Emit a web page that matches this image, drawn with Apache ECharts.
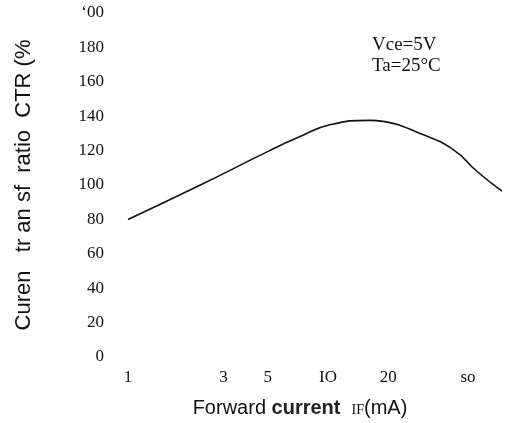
<!DOCTYPE html>
<html>
<head>
<meta charset="utf-8">
<script src="https://cdn.jsdelivr.net/npm/echarts@6/dist/echarts.min.js"></script>
<style>html,body{margin:0;padding:0;background:#fff;}#c{width:514px;height:423px;}</style>
</head>
<body>
<div id="c"></div>
<script>
// Forward current IF (mA) and current transfer ratio CTR (%)
var forwardCurrent = [1.0, 2.3, 5.1, 7.2, 10.2, 16.2, 18.8, 28.8, 42.2, 55.4, 73.9];
var ctrValues      = [80, 100, 120, 128, 135, 137.6, 137, 130, 120.6, 108, 96.4];
var xTickValues = [1, 3, 5, 10, 20, 50];
var xTickLabels = ['1', '3', '5', 'IO', '20', 'so'];
var yTickValues = [0, 20, 40, 60, 80, 100, 120, 140, 160, 180, 200];
var yTickLabels = ['0', '20', '40', '60', '80', '100', '120', '140', '160', '180', '\u201800'];

var chart = echarts.init(document.getElementById('c'));
var serif = '"Liberation Serif", "DejaVu Serif", serif';
var sans = '"Liberation Sans", "DejaVu Sans", sans-serif';

chart.setOption({
  animation: false,
  backgroundColor: '#fff',
  title: {
    text: 'Vce=5V\nTa=25\u00b0C',
    left: 367, top: 30,
    textStyle: {fontFamily: serif, fontSize: 19, fontWeight: 'normal', color: '#111', lineHeight: 21}
  },
  grid: {left: 128, right: 12, top: 13, bottom: 65},
  xAxis: {
    type: 'log', logBase: 10, min: 1, max: 74,
    name: '{a|Forward }{b|current}{a|  }{c|IF}{a|(mA)}',
    nameLocation: 'middle', nameGap: 41,
    nameTextStyle: {
      padding: [0, 30, 0, 0],
      rich: {
        a: {fontFamily: sans, fontSize: 20, color: '#111'},
        b: {fontFamily: sans, fontSize: 20, fontWeight: 'bold', color: '#222'},
        c: {fontFamily: serif, fontSize: 14, color: '#111', padding: [4, 0, 0, 0]}
      }
    },
    axisLine: {show: false}, axisTick: {show: false}, splitLine: {show: false},
    axisLabel: {
      customValues: xTickValues,
      margin: 12,
      fontFamily: serif, fontSize: 17, color: '#111',
      formatter: function (v) {
        var best = 0, bd = Infinity;
        for (var i = 0; i < xTickValues.length; i++) {
          var d = Math.abs(Math.log(v) - Math.log(xTickValues[i]));
          if (d < bd) { bd = d; best = i; }
        }
        return xTickLabels[best];
      }
    }
  },
  yAxis: {
    type: 'value', min: 0, max: 200, interval: 20,
    name: 'Curen   tr an sf  ratio  CTR (%',
    nameLocation: 'middle', nameGap: 93, nameRotate: 90,
    nameTextStyle: {fontFamily: sans, fontSize: 22, color: '#111'},
    axisLine: {show: false}, axisTick: {show: false}, splitLine: {show: false},
    axisLabel: {
      margin: 24,
      fontFamily: serif, fontSize: 17, color: '#111',
      formatter: function (v) {
        var i = yTickValues.indexOf(Math.round(v));
        return i >= 0 ? yTickLabels[i] : '';
      }
    }
  },
  series: [{
    type: 'line',
    data: forwardCurrent.map(function (x, i) { return [x, ctrValues[i]]; }),
    smooth: true, showSymbol: false,
    lineStyle: {color: '#111', width: 1.6}
  }]
});
</script>
</body>
</html>
